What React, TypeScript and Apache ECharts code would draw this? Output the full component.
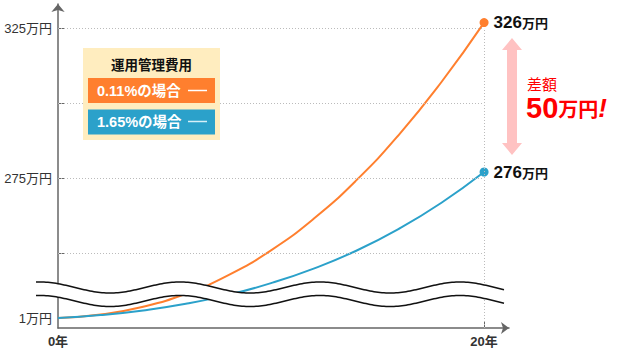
import React, { useEffect, useRef } from 'react';
import * as echarts from 'echarts';

// Years on the x axis
const years = [0, 2, 4, 6, 8, 10, 12, 14, 16, 18, 20];
// Values on the (broken) y axis; the bottom value stands for "1万円"
const lowFee = [228.3, 229.5, 232.1, 236.4, 242.6, 250.9, 261.4, 274.2, 289.4, 307.0, 326.8];
const highFee = [228.3, 229.3, 230.85, 233.05, 236.05, 239.95, 244.8, 250.75, 258.05, 266.75, 277.0];
const seriesNames = ['0.11%の場合', '1.65%の場合'];
const endTotals = ['326', '276'];
const yTickValues = [250, 275, 300, 325];
const yLabelValues = [228.3, 275, 325];
const yLabelTexts = ['1万円', '275万円', '325万円'];
const xLabelValues = [0, 20];
const xLabelTexts = ['0年', '20年'];
const legendTitle = '運用管理費用';
const diffTitle = '差額';
const diffValue = '50';

const ORANGE = '#ff7f2e';
const BLUE = '#2ba1ca';
const FONT = '"Liberation Sans", "Noto Sans CJK JP", sans-serif';

function wave(offset: number): number[][] {
  const pts: number[][] = [];
  for (let x = 36; x <= 505; x += 2) {
    pts.push([x, 287.5 - 5.5 * Math.cos((2 * Math.PI * (x - 180)) / 140) + offset]);
  }
  return pts;
}

export default function App() {
  const ref = useRef<HTMLDivElement>(null);
  useEffect(() => {
    if (!ref.current) return;
    const chart = echarts.init(ref.current, null, { renderer: 'svg' });
    const last = years.length - 1;
    const mkData = (vals: number[], idx: number) =>
      vals.map((v, i) =>
        i === last
          ? {
              value: [years[i], v],
              symbol: 'circle',
              symbolSize: 9,
              label: {
                show: true,
                position: 'right',
                distance: 5,
                formatter: `{n|${endTotals[idx]}}{u|万円}`,
                rich: {
                  n: { fontSize: 17, fontWeight: 'bold', color: '#111', fontFamily: FONT },
                  u: { fontSize: 13, fontWeight: 'bold', color: '#111', fontFamily: FONT, padding: [2, 0, 0, 0] },
                },
              },
            }
          : { value: [years[i], v], symbol: 'none' }
      );
    const upper = wave(0);
    const lower = wave(13.5);
    const band = upper.concat(lower.slice().reverse());
    const dotted = { color: '#bbbbbb', type: [1, 2] as any, width: 1 };
    chart.setOption({
      animation: false,
      grid: { left: 58, top: 4, right: 111, bottom: 21 },
      xAxis: {
        type: 'value',
        min: 0,
        max: 21.17,
        axisLine: { show: true, symbol: ['none', 'arrow'], symbolSize: [9, 8], lineStyle: { color: '#666', width: 1.5 } },
        axisTick: { show: true, inside: true, length: 6, customValues: [20], lineStyle: { color: '#666', width: 1 } },
        axisLabel: {
          customValues: xLabelValues,
          formatter: (v: number) => xLabelTexts[xLabelValues.indexOf(v)] ?? '',
          margin: 7,
          color: '#333',
          fontSize: 13,
          fontWeight: 'bold',
          fontFamily: FONT,
        },
        splitLine: { show: false },
      },
      yAxis: {
        type: 'value',
        min: 225,
        max: 333,
        axisLine: { show: true, symbol: ['none', 'arrow'], symbolSize: [10, 8], lineStyle: { color: '#666', width: 1.5 } },
        axisTick: { show: true, inside: true, length: 6, customValues: yTickValues, lineStyle: { color: '#666', width: 1 } },
        axisLabel: {
          customValues: yLabelValues,
          formatter: (v: number) => yLabelTexts[yLabelValues.indexOf(v)] ?? '',
          margin: 6,
          color: '#333',
          fontSize: 13,
          fontFamily: FONT,
        },
        splitLine: { show: false },
      },
      series: [
        {
          name: seriesNames[0],
          type: 'line',
          smooth: 0.5,
          showSymbol: true,
          data: mkData(lowFee, 0),
          lineStyle: { color: ORANGE, width: 2 },
          itemStyle: { color: ORANGE },
          z: 3,
          markLine: {
            silent: true,
            symbol: 'none',
            label: { show: false },
            lineStyle: dotted,
            data: [
              ...yTickValues.map((v) => [{ coord: [0, v] }, { coord: [20, v] }]),
              [{ coord: [20, 225] }, { coord: [20, 325] }],
            ],
          },
        },
        {
          name: seriesNames[1],
          type: 'line',
          smooth: 0.5,
          showSymbol: true,
          data: mkData(highFee, 1),
          lineStyle: { color: BLUE, width: 2 },
          itemStyle: { color: BLUE },
          z: 3,
        },
      ],
      graphic: [
        { type: 'polygon', z: 100, shape: { points: band }, style: { fill: '#fff', stroke: 'none' } },
        { type: 'polyline', z: 101, shape: { points: upper }, style: { stroke: '#111', lineWidth: 1.5, fill: 'none' } },
        { type: 'polyline', z: 101, shape: { points: lower }, style: { stroke: '#111', lineWidth: 1.5, fill: 'none' } },
        // legend box
        { type: 'rect', z: 100, shape: { x: 83, y: 48, width: 137, height: 92 }, style: { fill: '#ffedbf' } },
        {
          type: 'text', z: 101, x: 151.5, y: 65,
          style: { text: legendTitle, fontSize: 13.5, fontWeight: 'bold', fontFamily: FONT, fill: '#111', align: 'center', verticalAlign: 'middle' },
        },
        { type: 'rect', z: 101, shape: { x: 88, y: 78, width: 127, height: 25 }, style: { fill: ORANGE } },
        {
          type: 'text', z: 102, x: 97, y: 91,
          style: { text: seriesNames[0], fontSize: 14.5, fontWeight: 'bold', fontFamily: FONT, fill: '#fff', align: 'left', verticalAlign: 'middle' },
        },
        { type: 'line', z: 102, shape: { x1: 188, y1: 90.5, x2: 207, y2: 90.5 }, style: { stroke: '#fff', lineWidth: 1.5 } },
        { type: 'rect', z: 101, shape: { x: 88, y: 109.5, width: 127, height: 25 }, style: { fill: BLUE } },
        {
          type: 'text', z: 102, x: 97, y: 122,
          style: { text: seriesNames[1], fontSize: 14.5, fontWeight: 'bold', fontFamily: FONT, fill: '#fff', align: 'left', verticalAlign: 'middle' },
        },
        { type: 'line', z: 102, shape: { x1: 188, y1: 121.5, x2: 207, y2: 121.5 }, style: { stroke: '#d6f0f8', lineWidth: 1.5 } },
        // pink double arrow
        {
          type: 'polygon', z: 100,
          shape: {
            points: [
              [512, 38], [522, 50], [517, 50], [517, 143], [522, 143], [512, 155],
              [502, 143], [507, 143], [507, 50], [502, 50],
            ],
          },
          style: { fill: '#ffc2c2' },
        },
        {
          type: 'text', z: 101, x: 527, y: 84,
          style: { text: diffTitle, fontSize: 15, fontFamily: FONT, fill: '#ff0000', align: 'left', verticalAlign: 'middle' },
        },
        {
          type: 'text', z: 101, x: 526, y: 108,
          style: {
            text: `{a|${diffValue}}{b|万円}{c|!}`,
            align: 'left',
            verticalAlign: 'middle',
            rich: {
              a: { fontSize: 29, fontWeight: 'bold', fontFamily: FONT, fill: '#ff0000', color: '#ff0000' },
              b: { fontSize: 20, fontWeight: 'bold', fontFamily: FONT, fill: '#ff0000', color: '#ff0000', padding: [4, 0, 0, 0] },
              c: { fontSize: 26, fontWeight: 'bold', fontStyle: 'italic', fontFamily: FONT, fill: '#ff0000', color: '#ff0000' },
            },
          },
        },
      ],
    });
    return () => chart.dispose();
  }, []);
  return <div ref={ref} style={{ position: 'absolute', left: 0, top: 0, width: 620, height: 349 }} />;
}
